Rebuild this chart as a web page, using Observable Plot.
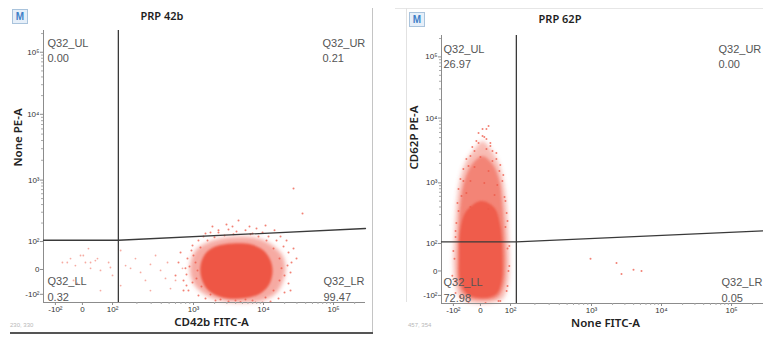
<!DOCTYPE html>
<html>
<head>
<meta charset="utf-8">
<script src="https://cdn.jsdelivr.net/npm/d3@7"></script>
<script src="https://cdn.jsdelivr.net/npm/@observablehq/plot@0.6"></script>
<style>
  body { margin: 0; background: #fff; }
  #wrap { position: relative; width: 763px; height: 338px; overflow: hidden; background: #fff; }
  .panel { position: absolute; top: 0; }
  .mbtn { position: absolute; width: 14px; height: 13px; border: 1px solid #a9c3dc; background: #e6eff9;
          color: #3f7fc8; font: bold 10px "Liberation Sans", Arial, sans-serif; text-align: center; line-height: 13px; }
  .title { position: absolute; font: 600 11px "Noto Sans", sans-serif; color: #1e1e1e; transform: translate(-50%, -50%); white-space: nowrap; }
  .coord { position: absolute; font: 6px "Liberation Sans", Arial, sans-serif; color: #b8b8b8; white-space: nowrap; }
  .line { position: absolute; }
</style>
</head>
<body>
<div id="wrap"></div>
<script>
// ---------------- data ----------------
const TITLES = ["PRP 42b", "PRP 62P"];
const X_LABELS = ["CD42b FITC-A", "None FITC-A"];
const Y_LABELS = ["None PE-A", "CD62P PE-A"];
const COORDS = ["230, 330", "457, 354"];
const QUADS = ["Q32_UL", "Q32_UR", "Q32_LL", "Q32_LR"];
const PCT_42B = ["0.00", "0.21", "0.32", "99.47"];
const PCT_62P = ["26.97", "0.00", "72.98", "0.05"];

const TICK_VALUES = [-100, 0, 100, 1000, 10000, 100000];
const TICK_LABELS = ["-10²", "0", "10²", "10³", "10⁴", "10⁵"];
const X_EXTENT = [-144, 286000];
const Y_EXTENT = [-133, 224000];

// quadrant gates: vertical threshold, horizontal threshold, end of tilted segment
const GATE_42B = { x: 118, y: 105, yEnd: 163 };
const GATE_62P = { x: 118, y: 106, yEnd: 161 };

// PRP 42b: dense population outline (outer halo / solid core), individual events
const CD42B_HALO = [[918,25],[1069,68],[1484,93],[2432,112],[4692,121],[8483,112],[13450,86],[18680,50],[20610,4],[18680,-52],[14840,-97],[9683,-125],[5530,-133],[2865,-129],[1638,-109],[1104,-73],[918,-24]];
const CD42B_CORE = [[1259,14],[1484,57],[2063,82],[3606,93],[6518,90],[10000,68],[12590,32],[13450,-12],[11790,-65],[8483,-101],[4692,-117],[2594,-113],[1638,-85],[1301,-36]];
const CD42B_EVENTS = [[796,4],[843,39],[753,-44],[867,-85],[973,86],[1178,104],[1389,121],[1750,141],[2275,152],[3162,157],[4113,146],[5530,152],[6966,135],[9683,141],[11790,121],[15350,104],[19310,82],[22760,61],[25120,25],[24300,-12],[22760,-56],[19950,-93],[16380,-117],[12590,-129],[7684,-133],[4692,-131],[3162,-129],[2063,-125],[1484,-117],[1178,-105],[973,-52],[820,-20],[653,25],[600,-24],[692,61],[29600,39],[26830,75],[14360,152],[6310,176],[2960,190],[1866,176],[10680,183],[4395,221],[26830,733],[36060,287],
  [1069,25],[1141,-4],[1000,50],[1259,79],[1585,104],[1995,117],[2773,126],[3727,131],[6518,131],[8483,121],[11040,104],[13900,75],[16930,39],[18080,4],[16930,-44],[13900,-85],[10680,-113],[6966,-125],[3981,-125],[2432,-121],[1750,-101],[1301,-69],[1104,-36],[893,11],[820,-65],[19950,-24],[22030,14],[21330,104],[17490,121],[3606,176],[7943,163],[2275,141],[1484,135],[944,68],[753,-85],[24300,-85],[9683,-133],[5530,-121]];
const CD42B_SPARSE = [[-74,25],[-56,25],[-44,39],[-26,14],[-33,-44],[-19,-56],[-7,50],[3,50],[10,25],[27,4],[27,25],[43,32],[50,39],[60,-4],[60,-85],[87,25],[93,7],[100,-24],[126,-65],[126,68],[145,14],[167,4],[192,39],[222,-12],[255,-44],[294,18],[340,50],[392,-4],[451,-36],[478,25],[520,-77],[600,-44],[731,4],[294,-85],[20,75]];

// PRP 62P
const CD62P_HALO = [[7,4413],[33,3326],[60,2028],[76,1069],[87,415],[93,133],[96,18],[90,-61],[73,-114],[33,-131],[-30,-131],[-74,-110],[-92,-61],[-100,29],[-96,133],[-89,415],[-78,996],[-56,2028],[-22,3326]];
const CD62P_MID = [[7,2594],[40,1954],[63,1069],[73,415],[80,133],[83,18],[76,-61],[56,-106],[0,-118],[-56,-102],[-81,-53],[-85,36],[-81,161],[-74,466],[-59,1069],[-30,1954]];
const CD62P_CORE = [[3,502],[47,385],[66,194],[73,54],[70,-41],[53,-94],[7,-110],[-48,-94],[-74,-41],[-78,54],[-74,173],[-52,343]];
const CD62P_EVENTS = [[7,5279],[20,4742],[-7,4121],[33,3697],[-22,3097],[40,3097],[-37,2594],[53,2333],[-44,1820],[63,1525],[-63,1069],[73,1069],[-70,607],[83,502],[-81,343],[90,235],[-92,161],[96,91],[-100,73],[96,18],[-104,-20],[90,-61],[-92,-90],[66,-123],[-44,-131],[17,-131],[20,6761],[27,7540],[973,44],[2275,29],[2683,-12],[3981,4],[5180,0],
  [-7,5875],[13,5093],[33,4121],[-30,3573],[20,3326],[53,2884],[-52,2333],[0,2506],[40,2173],[66,1884],[-63,1638],[-22,1757],[27,1525],[76,1322],[-74,1146],[-37,1069],[13,996],[56,922],[-81,792],[-52,681],[47,631],[80,585],[-85,466],[-37,400],[27,371],[87,318],[-89,218],[83,187],[-92,128],[90,82],[-96,44],[93,0],[-92,-41],[87,-82],[-74,-106],[60,-123],[-15,4413],[7,6761]];

// ---------------- logicle-like display transform (scale definition) ----------------
function makeTransform(vals, pos) {
  return v => {
    if (v <= vals[2]) {
      const i = v <= vals[1] ? 0 : 1;
      return pos[i] + (v - vals[i]) * (pos[i + 1] - pos[i]) / (vals[i + 1] - vals[i]);
    }
    const L = Math.log10(v);
    let i = 2;
    while (i < vals.length - 2 && L > Math.log10(vals[i + 1])) i++;
    const a = Math.log10(vals[i]), b = Math.log10(vals[i + 1]);
    return pos[i] + (L - a) * (pos[i + 1] - pos[i]) / (b - a);
  };
}
const tx = makeTransform(TICK_VALUES, [-0.386, 0, 0.43, 1.586, 2.586, 3.586]);
const ty = makeTransform(TICK_VALUES, [-0.4, 0, 0.45, 1.44, 2.5, 3.5]);

const minor = [];
for (const d of [100, 1000, 10000, 100000]) for (let k = 2; k <= 9; k++) if (k * d < 262144) minor.push(k * d);

const xLab = new Map(TICK_VALUES.map((v, i) => [tx(v), TICK_LABELS[i]]));
const yLab = new Map(TICK_VALUES.map((v, i) => [ty(v), TICK_LABELS[i]]));

const RED = "#ee5745";
const AXIS = "#8c8c8c";
const FONT = "'Liberation Sans', Arial, sans-serif";

function makePanel(cfg) {
  const xd = X_EXTENT.map(tx), yd = Y_EXTENT.map(ty);
  const poly = ([data, op]) => Plot.line(data, { x: d => tx(d[0]), y: d => ty(d[1]), curve: "catmull-rom-closed",
    fill: RED, fillOpacity: op, stroke: "none" });
  const quadText = (i, anchor, dx, dy, lineAnchor) => Plot.text([QUADS[i] + "\n" + cfg.pct[i]], {
    text: d => d, frameAnchor: anchor, dx, dy, textAnchor: "start", lineAnchor, lineHeight: 1.38,
    fontSize: 11, fill: "#555", fontFamily: FONT });
  const g = cfg.gate;
  const svg = Plot.plot({
    width: cfg.width, height: 338,
    marginLeft: cfg.ml, marginRight: cfg.mr, marginTop: cfg.mt, marginBottom: cfg.mb,
    x: { type: "linear", domain: xd },
    y: { type: "linear", domain: yd },
    style: { fontFamily: FONT, background: "transparent", overflow: "visible" },
    marks: [
      ...cfg.polys.map(poly),
      Plot.dot(cfg.sparse || [], { x: d => tx(d[0]), y: d => ty(d[1]), r: 0.9, fill: "#f2877a", fillOpacity: 0.7, stroke: "none", clip: true }),
      Plot.dot(cfg.events, { x: d => tx(d[0]), y: d => ty(d[1]), r: 1, fill: RED, fillOpacity: 0.75, stroke: "none", clip: true }),
      Plot.ruleX([xd[0]], { stroke: AXIS, strokeWidth: 1 }),
      Plot.ruleY([yd[0]], { stroke: AXIS, strokeWidth: 1 }),
      Plot.axisX(minor.map(tx), { tickSize: 2, stroke: "#aaa", tickFormat: () => "", label: null }),
      Plot.axisY(minor.map(ty), { tickSize: 2, stroke: "#aaa", tickFormat: () => "", label: null }),
      Plot.axisX(TICK_VALUES.map(tx), { tickSize: 3, tickPadding: 1, stroke: AXIS, fontSize: 8, fill: "#333",
        tickFormat: d => xLab.get(d), label: null }),
      Plot.axisY(TICK_VALUES.map(ty), { tickSize: 3, tickPadding: 1, stroke: AXIS, fontSize: 8, fill: "#333",
        tickFormat: d => yLab.get(d), label: null }),
      Plot.ruleX([g.x], { x: d => tx(d), stroke: "#3a3a3a", strokeWidth: 1.3 }),
      Plot.line([[X_EXTENT[0], g.y], [g.x, g.y], [X_EXTENT[1], g.yEnd]], { x: d => tx(d[0]), y: d => ty(d[1]),
        stroke: "#3a3a3a", strokeWidth: 1.3 }),
      quadText(0, "top-left", cfg.q[0][0], cfg.q[0][1], "top"),
      quadText(1, "top-right", cfg.q[1][0], cfg.q[1][1], "top"),
      quadText(2, "bottom-left", cfg.q[2][0], cfg.q[2][1], "bottom"),
      quadText(3, "bottom-right", cfg.q[3][0], cfg.q[3][1], "bottom"),
      Plot.text([cfg.xLabel], { text: d => d, frameAnchor: "bottom", dx: cfg.xdx, dy: 20, lineAnchor: "middle",
        fontSize: 11.5, fontWeight: 600, fill: "#222", fontFamily: "'Noto Sans', sans-serif" }),
      Plot.text([cfg.yLabel], { text: d => d, frameAnchor: "left", dx: cfg.ydx, rotate: -90, lineAnchor: "middle",
        fontSize: 11.5, fontWeight: 600, fill: "#222", fontFamily: "'Noto Sans', sans-serif" })
    ]
  });
  // soft edges for the dense-population layers (SVG blur filter on the first line marks)
  const NS = "http://www.w3.org/2000/svg";
  const defs = document.createElementNS(NS, "defs");
  svg.insertBefore(defs, svg.firstChild);
  const groups = svg.querySelectorAll('g[aria-label="line"]');
  cfg.polys.forEach(([, , sd], i) => {
    const id = `blur-${cfg.id}-${i}`;
    const f = document.createElementNS(NS, "filter");
    f.setAttribute("id", id);
    f.setAttribute("x", "-30%"); f.setAttribute("y", "-30%"); f.setAttribute("width", "160%"); f.setAttribute("height", "160%");
    const gb = document.createElementNS(NS, "feGaussianBlur");
    gb.setAttribute("stdDeviation", sd);
    f.appendChild(gb); defs.appendChild(f);
    if (groups[i]) groups[i].setAttribute("filter", `url(#${id})`);
  });
  return svg;
}

const wrap = document.getElementById("wrap");
function add(el, css) { Object.assign(el.style, css); wrap.appendChild(el); return el; }
function div(cls, text, css) { const d = document.createElement("div"); d.className = cls; if (text != null) d.textContent = text; return add(d, css); }

const left = makePanel({
  id: "a", width: 372, ml: 43, mr: 7, mt: 30, mb: 36,
  pct: PCT_42B, gate: GATE_42B, xLabel: X_LABELS[0], yLabel: Y_LABELS[0], xdx: 7, ydx: -25,
  q: [[4, 6], [-43, 6], [4, -2], [-42, -2]],
  polys: [[CD42B_HALO, 0.5, 2.2], [CD42B_CORE, 1, 1]],
  events: CD42B_EVENTS, sparse: CD42B_SPARSE
});
left.classList.add("panel"); add(left, { left: "0px" });

const right = makePanel({
  id: "b", width: 380, ml: 58, mr: 0, mt: 35, mb: 35,
  pct: PCT_62P, gate: GATE_62P, xLabel: X_LABELS[1], yLabel: Y_LABELS[1], xdx: 3, ydx: -27,
  q: [[2, 7], [-45, 7], [2, -2], [-42, -2]],
  polys: [[CD62P_HALO, 0.4, 2.2], [CD62P_MID, 0.55, 1.6], [CD62P_CORE, 0.9, 1]],
  events: CD62P_EVENTS
});
right.classList.add("panel"); add(right, { left: "383px" });

div("line", null, { left: "372px", top: "8px", width: "1px", height: "325px", background: "#c4c4c4" });
div("line", null, { left: "10px", top: "332px", width: "363px", height: "2px", background: "#555" });
div("line", null, { left: "395px", top: "8px", width: "368px", height: "1px", background: "#e6e6e6" });
div("line", null, { left: "406px", top: "8px", width: "1px", height: "294px", background: "#e2e2e2" });
div("mbtn", "M", { left: "12px", top: "9px" });
div("mbtn", "M", { left: "409px", top: "12px" });
div("title", TITLES[0], { left: "162px", top: "15px" });
div("title", TITLES[1], { left: "560px", top: "18px" });
div("coord", COORDS[0], { left: "10px", top: "322px" });
div("coord", COORDS[1], { left: "408px", top: "322px" });
</script>
</body>
</html>
